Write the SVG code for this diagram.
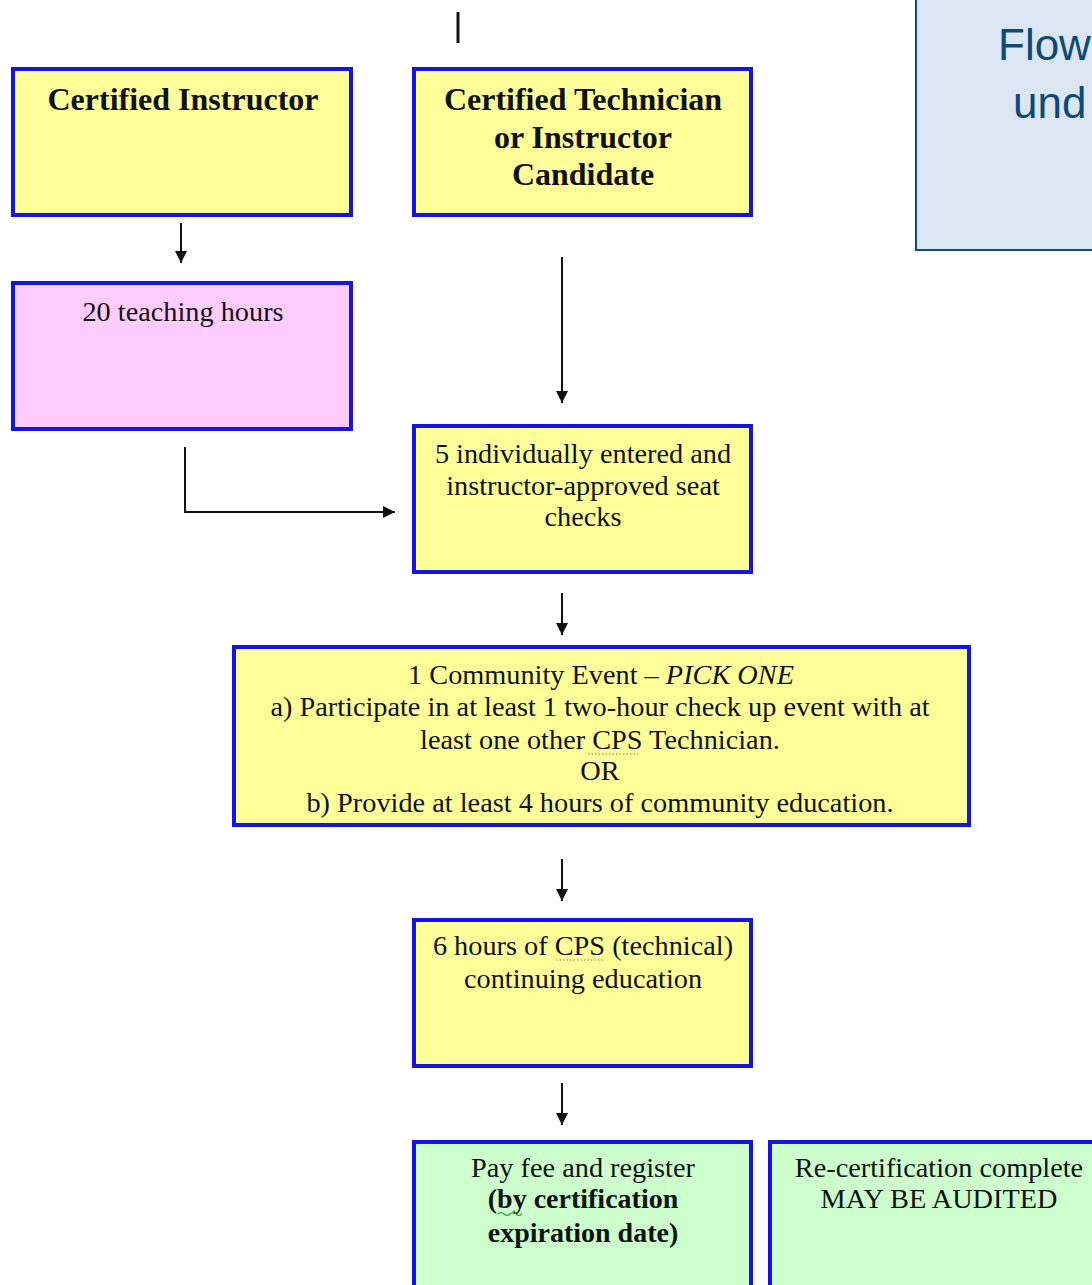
<svg xmlns="http://www.w3.org/2000/svg" width="1092" height="1285" viewBox="0 0 1092 1285">
<defs>
<style>
.box{stroke:#1414e6;stroke-width:4}
.y{fill:#ffff99}
.p{fill:#ffccff}
.g{fill:#ccffcc}
.t{font-family:"Liberation Serif","Times New Roman",serif;font-size:28.3px;fill:#111;text-anchor:middle}
.b{font-weight:bold;font-size:32px}
.b2{font-weight:bold;font-size:28px}
.con{stroke:#111;stroke-width:2;fill:none}
.sq{stroke:#b06060;stroke-width:1.2;stroke-dasharray:1.5 2;fill:none}
</style>
<marker id="ah" viewBox="0 0 10 10" refX="10" refY="5" markerWidth="6" markerHeight="6" markerUnits="strokeWidth" orient="auto">
<path d="M0,0 L10,5 L0,10 z" fill="#111"/>
</marker>
</defs>
<rect width="1092" height="1285" fill="#ffffff"/>

<g id="title-box">
<rect x="916" y="-4" width="190" height="254" fill="#dce6f2" stroke="#0f4d7a" stroke-width="2"/>
<text x="998" y="60" font-family="'Liberation Sans',Arial,sans-serif" font-size="44" fill="#0d4a75">Flow</text>
<text x="1013" y="118" font-family="'Liberation Sans',Arial,sans-serif" font-size="44" fill="#0d4a75">und</text>
</g>

<g id="connectors">
<line x1="458" y1="12" x2="458" y2="43" stroke="#111" stroke-width="3"/>
<line class="con" x1="181" y1="223" x2="181" y2="263" marker-end="url(#ah)"/>
<line class="con" x1="562" y1="257" x2="562" y2="403" marker-end="url(#ah)"/>
<polyline class="con" points="185,447 185,512 395,512" marker-end="url(#ah)"/>
<line class="con" x1="562" y1="593" x2="562" y2="635" marker-end="url(#ah)"/>
<line class="con" x1="562" y1="859" x2="562" y2="901" marker-end="url(#ah)"/>
<line class="con" x1="562" y1="1083" x2="562" y2="1125" marker-end="url(#ah)"/>
</g>

<g id="certified-instructor">
<rect class="box y" x="13" y="69" width="338" height="146"/>
<text class="t b" x="183" y="110">Certified Instructor</text>
</g>

<g id="certified-technician">
<rect class="box y" x="414" y="69" width="337" height="146"/>
<text class="t b" x="583" y="110">Certified Technician</text>
<text class="t b" x="583" y="148">or Instructor</text>
<text class="t b" x="583" y="185">Candidate</text>
</g>

<g id="teaching-hours">
<rect class="box p" x="13" y="283" width="338" height="146"/>
<text class="t" x="183" y="321">20 teaching hours</text>
</g>

<g id="seat-checks">
<rect class="box y" x="414" y="426" width="337" height="146"/>
<text class="t" x="583" y="463">5 individually entered and</text>
<text class="t" x="583" y="495">instructor-approved seat</text>
<text class="t" x="583" y="526">checks</text>
</g>

<g id="community-event">
<rect class="box y" x="234" y="647" width="735" height="178"/>
<text class="t" x="601" y="684">1 Community Event – <tspan font-style="italic">PICK ONE</tspan></text>
<text class="t" x="600" y="716">a) Participate in at least 1 two-hour check up event with at</text>
<text class="t" x="600" y="749">least one other CPS Technician.</text>
<text class="t" x="600" y="780">OR</text>
<text class="t" x="600" y="812">b) Provide at least 4 hours of community education.</text>
<path class="sq" d="M588,754 L638,754"/>
</g>

<g id="continuing-education">
<rect class="box y" x="414" y="920" width="337" height="146"/>
<text class="t" x="583" y="955">6 hours of CPS (technical)</text>
<text class="t" x="583" y="988">continuing education</text>
<path class="sq" d="M556,960 L604,960"/>
</g>

<g id="pay-fee">
<rect class="box g" x="414" y="1142" width="337" height="160"/>
<text class="t" x="583" y="1177">Pay fee and register</text>
<text class="t b2" x="583" y="1208">(by certification</text>
<text class="t b2" x="583" y="1242">expiration date)</text>
<path d="M498,1214 q3,-3 6,0 t6,0 t6,0 t6,0" stroke="#3a9a3a" stroke-width="1.2" fill="none"/>
</g>

<g id="recertification-complete">
<rect class="box g" x="770" y="1142" width="340" height="160"/>
<text class="t" x="939" y="1177">Re-certification complete</text>
<text class="t" x="939" y="1208">MAY BE AUDITED</text>
</g>
</svg>
